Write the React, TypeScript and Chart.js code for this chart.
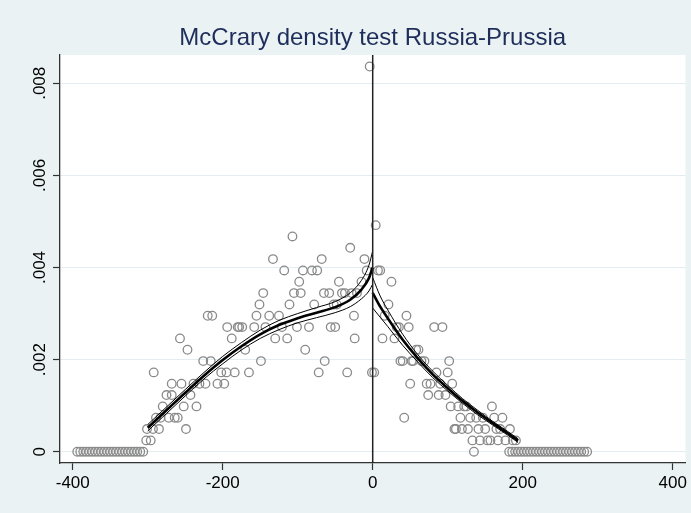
import React, { useEffect, useRef } from "react";
import { Chart, registerables } from "chart.js";

Chart.register(...registerables);

const TITLE = "McCrary density test Russia-Prussia";
const xTickValues = [-400, -200, 0, 200, 400];
const xTickLabels = ["-400", "-200", "0", "200", "400"];
const yTickValues = [0, 0.002, 0.004, 0.006, 0.008];
const yTickLabels = ["0", ".002", ".004", ".006", ".008"];
const cutoff = 0;

// Binned density (scatter of hollow circles)
const binX = [
  -394, -390, -386, -382, -378, -374, -370, -366, -362, -358,
  -354, -350, -346, -342, -338, -334, -330, -326, -322, -318,
  -314, -310, -306,
  -302, -296, -301, -293, -292, -289, -285, -283, -280, -275,
  -272, -268, -268, -264, -260, -257, -255, -252, -249, -247,
  -243, -239, -235, -231, -226, -223, -220, -216, -214, -207,
  -202, -198, -195, -194, -188, -184, -180, -178, -174, -170,
  -165, -158, -155, -151, -149, -146, -143, -138, -133, -130,
  -125, -121, -118, -114, -111, -107, -105, -101, -98, -96,
  -93, -90, -85, -81, -78, -74, -72, -68, -65, -64,
  -58, -56, -52, -50, -48, -45, -41, -37, -34, -30,
  -28, -25, -24, -21, -15, -11, -8, -4, -1,
  2, 4, 7, 10, 13, 16, 21, 25, 29, 32,
  35, 37, 40, 42, 45, 48, 50, 52, 54, 58,
  61, 65, 69, 72, 74, 77, 82, 85, 88, 90,
  93, 97, 100, 102, 104, 106, 109, 111, 114, 117,
  119, 122, 125, 127, 130, 133, 135, 138, 141, 143,
  147, 150, 153, 157, 159, 162, 165, 167, 170, 173,
  177, 183, 187, 191,
  182, 186, 190, 194, 198, 202, 206, 210, 214, 218,
  222, 226, 230, 234, 238, 242, 246, 250, 254, 258,
  262, 266, 270, 274, 278, 282, 286,
];
const binDensity = [
  0, 0, 0, 0, 0, 0, 0, 0, 0, 0,
  0, 0, 0, 0, 0, 0, 0, 0, 0, 0,
  0, 0, 0,
  0.000246, 0.000246, 0.000492, 0.000492, 0.001722, 0.000738, 0.000492, 0.000738, 0.000984, 0.00123,
  0.000738, 0.001476, 0.00123, 0.000738, 0.000738, 0.00246, 0.001476, 0.000984, 0.000492, 0.002214,
  0.00123, 0.001476, 0.000984, 0.001476, 0.001968, 0.001476, 0.002952, 0.001968, 0.002952, 0.001476,
  0.001722, 0.001476, 0.001722, 0.002706, 0.00246, 0.001722, 0.002706, 0.002706, 0.002706, 0.002214,
  0.001722, 0.002706, 0.002952, 0.003198, 0.001968, 0.003444, 0.002706, 0.002952, 0.004182, 0.00246,
  0.002952, 0.002706, 0.003936, 0.00246, 0.003198, 0.004674, 0.003444, 0.002706, 0.00369, 0.003444,
  0.003936, 0.002214, 0.002706, 0.003936, 0.003198, 0.003936, 0.001722, 0.004182, 0.003444, 0.001968,
  0.003444, 0.002706, 0.003198, 0.002706, 0.003198, 0.00369, 0.003444, 0.003444, 0.001722, 0.004428,
  0.003444, 0.002952, 0.00246, 0.003444, 0.00369, 0.004182, 0.003936, 0.008364, 0.001722,
  0.001722, 0.00492, 0.003936, 0.003936, 0.00246, 0.002952, 0.003198, 0.00369, 0.00246, 0.002706,
  0.002706, 0.001968, 0.001968, 0.000738, 0.002952, 0.002706, 0.001476, 0.001968, 0.001968, 0.002214,
  0.002214, 0.001968, 0.001968, 0.001476, 0.00123, 0.001476, 0.002706, 0.001722, 0.00123, 0.001476,
  0.002706, 0.00123, 0.001722, 0.001968, 0.000984, 0.001476, 0.000492, 0.000492, 0.000984, 0.000738,
  0.000492, 0.000984, 0.000984, 0.000492, 0.000738, 0.000246, 0, 0.000738, 0.000492, 0.000246,
  0.000738, 0.000492, 0.000246, 0.000246, 0.000984, 0.000738, 0.000492, 0.000246, 0.000492, 0.000738,
  0.000246, 0.000492, 0.000246, 0.000246,
  0, 0, 0, 0, 0, 0, 0, 0, 0, 0,
  0, 0, 0, 0, 0, 0, 0, 0, 0, 0,
  0, 0, 0, 0, 0, 0, 0,
];

// Local linear fit left of the cutoff, with confidence band
const leftFitX = [-300, -275, -250, -225, -200, -175, -150, -125, -100, -75, -50, -30, -15, -5, 0];
const leftFit = [0.00052, 0.0009, 0.00128, 0.00165, 0.00199, 0.00229, 0.00255, 0.00275, 0.0029, 0.00302, 0.00314, 0.0033, 0.00352, 0.00377, 0.004];
const leftUpper = [0.00059, 0.00097, 0.00135, 0.00172, 0.00207, 0.00237, 0.00264, 0.00285, 0.003, 0.00313, 0.00326, 0.00345, 0.00372, 0.00405, 0.00436];
const leftLower = [0.00045, 0.00083, 0.00121, 0.00158, 0.00191, 0.00221, 0.00246, 0.00265, 0.0028, 0.00291, 0.00302, 0.00315, 0.00332, 0.00349, 0.00364];

// Local linear fit right of the cutoff, with confidence band
const rightFitX = [0, 10, 20, 40, 60, 80, 100, 120, 140, 160, 180, 194];
const rightFit = [0.00345, 0.00315, 0.0029, 0.00243, 0.00203, 0.00168, 0.00138, 0.0011, 0.00085, 0.00062, 0.0004, 0.00024];
const rightUpper = [0.00378, 0.00338, 0.00308, 0.00255, 0.00211, 0.00175, 0.00144, 0.00115, 0.0009, 0.00066, 0.00044, 0.00028];
const rightLower = [0.00312, 0.00292, 0.00272, 0.00231, 0.00195, 0.00161, 0.00132, 0.00105, 0.0008, 0.00058, 0.00036, 0.0002];

const FONT = "'Liberation Sans', Arial, Helvetica, sans-serif";
const BG = "#EAF2F3";

function pts(xs: number[], ys: number[]) {
  return xs.map((x, i) => ({ x, y: ys[i] }));
}

function lineDs(xs: number[], ys: number[], width: number) {
  return {
    type: "scatter" as const,
    data: pts(xs, ys),
    showLine: true,
    borderColor: "#000000",
    backgroundColor: "#000000",
    borderWidth: width,
    pointRadius: 0,
    cubicInterpolationMode: "monotone" as const,
    order: 0,
  };
}

const bgPlugin = {
  id: "stataBg",
  beforeDraw(chart: any) {
    const { ctx, chartArea } = chart;
    ctx.save();
    ctx.fillStyle = BG;
    ctx.fillRect(0, 0, chart.width, chart.height);
    ctx.fillStyle = "#ffffff";
    ctx.fillRect(chartArea.left, chartArea.top, chartArea.right - chartArea.left, chartArea.bottom - chartArea.top);
    ctx.restore();
  },
  afterDatasetsDraw(chart: any) {
    const { ctx, chartArea } = chart;
    const px = chart.scales.x.getPixelForValue(cutoff);
    ctx.save();
    ctx.strokeStyle = "#222222";
    ctx.lineWidth = 1.5;
    ctx.beginPath();
    ctx.moveTo(px, chartArea.top);
    ctx.lineTo(px, chartArea.bottom);
    ctx.stroke();
    ctx.restore();
  },
};

export default function App() {
  const ref = useRef<HTMLCanvasElement | null>(null);
  useEffect(() => {
    const canvas = ref.current;
    if (!canvas) return;
    const chart = new Chart(canvas, {
      type: "scatter",
      data: {
        datasets: [
          lineDs(leftFitX, leftFit, 2.6),
          lineDs(leftFitX, leftUpper, 1),
          lineDs(leftFitX, leftLower, 1),
          lineDs(rightFitX, rightFit, 2.6),
          lineDs(rightFitX, rightUpper, 1),
          lineDs(rightFitX, rightLower, 1),
          {
            type: "scatter",
            data: pts(binX, binDensity),
            showLine: false,
            pointStyle: "circle",
            pointRadius: 4.3,
            borderWidth: 1.3,
            borderColor: "#8a8a8a",
            backgroundColor: "rgba(0,0,0,0)",
            order: 1,
          } as any,
        ],
      },
      options: {
        responsive: false,
        animation: false,
        devicePixelRatio: 1,
        layout: { padding: { top: 0, right: 3, bottom: 0, left: 0 } },
        plugins: {
          legend: { display: false },
          tooltip: { enabled: false },
          title: {
            display: true,
            text: TITLE,
            fullSize: false,
            color: "#1e2d5a",
            font: { family: FONT, size: 24, weight: "normal" },
            padding: { top: 23.6, bottom: 2.6 },
          },
        },
        scales: {
          x: {
            type: "linear",
            min: -417,
            max: 417,
            afterBuildTicks: (s: any) => {
              s.ticks = xTickValues.map((v) => ({ value: v }));
            },
            afterFit: (s: any) => {
              s.height = 50;
              s.paddingLeft = 0;
              s.paddingRight = 0;
            },
            ticks: {
              autoSkip: false,
              maxRotation: 0,
              minRotation: 0,
              padding: 3,
              color: "#000000",
              font: { family: FONT, size: 17 },
              callback: (v: any) => xTickLabels[xTickValues.indexOf(Number(v))],
            },
            grid: {
              drawOnChartArea: false,
              drawTicks: true,
              tickLength: 7,
              tickColor: "#333333",
              tickWidth: 1.2,
            },
            border: { display: true, color: "#333333", width: 1.3 },
          },
          y: {
            type: "linear",
            min: -0.000245,
            max: 0.008614,
            afterBuildTicks: (s: any) => {
              s.ticks = yTickValues.map((v) => ({ value: v }));
            },
            afterFit: (s: any) => {
              s.width = 60;
              s.paddingTop = 0;
              s.paddingBottom = 0;
            },
            ticks: {
              autoSkip: false,
              minRotation: 90,
              maxRotation: 90,
              crossAlign: "center",
              padding: -4,
              color: "#000000",
              font: { family: FONT, size: 17 },
              callback: (v: any) => yTickLabels[yTickValues.indexOf(Number(v))],
            },
            grid: {
              drawOnChartArea: true,
              color: "#E3EDEF",
              lineWidth: 1,
              drawTicks: true,
              tickLength: 7,
              tickColor: "#333333",
              tickWidth: 1.2,
            },
            border: { display: true, color: "#333333", width: 1.3 },
          },
        },
      },
      plugins: [bgPlugin],
    } as any);
    return () => chart.destroy();
  }, []);
  return (
    <div style={{ position: "fixed", left: 0, top: 0, width: 691, height: 513 }}>
      <canvas ref={ref} width={691} height={513} style={{ display: "block", width: 691, height: 513 }} />
    </div>
  );
}
